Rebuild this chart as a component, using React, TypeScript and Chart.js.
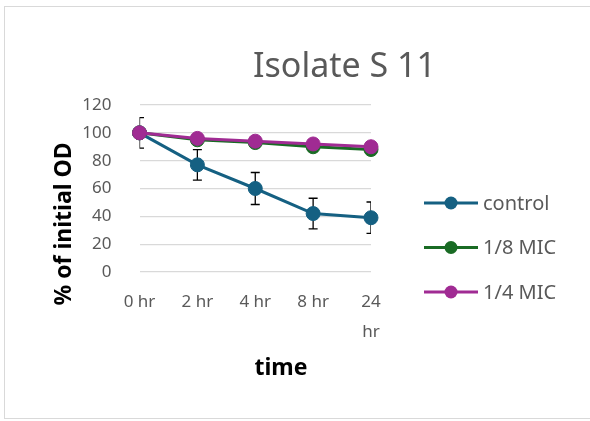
import React, { useEffect, useRef } from 'react';
import { Chart, registerables } from 'chart.js';

Chart.register(...registerables);

const categories: (string | string[])[] = ['0 hr', '2 hr', '4 hr', '8 hr', ['24', 'hr']];
const controlValues = [100, 77, 60, 42, 39];
const controlErrors = [11, 11, 11.5, 11, 11.3];
const mic8Values = [100, 95, 93, 90, 88];
const mic4Values = [100, 96, 94, 92, 90];
const seriesLabels = ['control', '1/8 MIC', '1/4 MIC'];
const seriesColors = ['#156082', '#196B24', '#A02B93'];
const yMin = 0;
const yMax = 120;
const yStep = 20;
const chartTitle = 'Isolate S 11';
const xTitle = 'time';
const yTitle = '% of initial OD';

const FONT = "'Noto Sans', sans-serif";
const GRAY = '#595959';

const errorBarPlugin = {
  id: 'errorBars',
  beforeDatasetsDraw(chart: any) {
    const { ctx, chartArea } = chart;
    const xs = chart.scales.x;
    const ys = chart.scales.y;
    ctx.save();
    ctx.beginPath();
    ctx.rect(chartArea.left, chartArea.top - 20, chartArea.right - chartArea.left, chartArea.bottom - chartArea.top + 40);
    ctx.clip();
    ctx.strokeStyle = '#000000';
    ctx.lineWidth = 1.3;
    const cap = 4.5;
    controlValues.forEach((v, i) => {
      const x = xs.getPixelForValue(i);
      const yTop = ys.getPixelForValue(v + controlErrors[i]);
      const yBot = ys.getPixelForValue(v - controlErrors[i]);
      ctx.beginPath();
      ctx.moveTo(x, yTop);
      ctx.lineTo(x, yBot);
      ctx.moveTo(x - cap, yTop);
      ctx.lineTo(x + cap, yTop);
      ctx.moveTo(x - cap, yBot);
      ctx.lineTo(x + cap, yBot);
      ctx.stroke();
    });
    ctx.restore();
  },
};

const textsPlugin = {
  id: 'chartTexts',
  afterDraw(chart: any, _args: any, opts: any) {
    const { ctx } = chart;
    ctx.save();
    ctx.textBaseline = 'alphabetic';
    ctx.textAlign = 'center';
    ctx.fillStyle = GRAY;
    ctx.font = `34px ${FONT}`;
    ctx.fillText(chartTitle, opts.titleX, opts.titleY);
    ctx.fillStyle = '#000000';
    ctx.font = `bold 23px ${FONT}`;
    ctx.fillText(xTitle, opts.xTitleX, opts.xTitleY);
    ctx.save();
    ctx.translate(opts.yTitleX, opts.yTitleY);
    ctx.rotate(-Math.PI / 2);
    ctx.fillText(yTitle, 0, 0);
    ctx.restore();
    ctx.restore();
  },
};

const sideLegendPlugin = {
  id: 'sideLegend',
  afterDraw(chart: any, _args: any, opts: any) {
    const { ctx } = chart;
    ctx.save();
    chart.data.datasets.forEach((ds: any, i: number) => {
      const y = opts.y + i * opts.spacing;
      const x0 = opts.x;
      ctx.strokeStyle = ds.borderColor;
      ctx.lineWidth = 3;
      ctx.beginPath();
      ctx.moveTo(x0, y);
      ctx.lineTo(x0 + opts.lineLength, y);
      ctx.stroke();
      ctx.fillStyle = ds.borderColor;
      ctx.beginPath();
      ctx.arc(x0 + opts.lineLength / 2, y, 6.5, 0, Math.PI * 2);
      ctx.fill();
      ctx.fillStyle = GRAY;
      ctx.font = `20px ${FONT}`;
      ctx.textBaseline = 'middle';
      ctx.textAlign = 'left';
      ctx.fillText(ds.label, x0 + opts.lineLength + 5, y + 1);
    });
    ctx.restore();
  },
};

function LineChart() {
  const ref = useRef<HTMLCanvasElement>(null);
  useEffect(() => {
    if (!ref.current) return;
    const seriesValues = [controlValues, mic8Values, mic4Values];
    const chart = new Chart(ref.current, {
      type: 'line',
      data: {
        labels: categories,
        datasets: seriesValues.map((vals, i) => ({
          label: seriesLabels[i],
          data: vals,
          borderColor: seriesColors[i],
          backgroundColor: seriesColors[i],
          pointBackgroundColor: seriesColors[i],
          pointBorderColor: seriesColors[i],
          borderWidth: 3,
          pointRadius: 7,
          pointHoverRadius: 7,
          pointBorderWidth: 1,
          tension: 0,
          fill: false,
          order: 2 - i,
        })),
      },
      options: {
        animation: false,
        responsive: false,
        devicePixelRatio: 1,
        layout: { padding: { left: 0, right: 219, top: 105, bottom: 0 } },
        plugins: {
          legend: { display: false },
          tooltip: { enabled: false },
          title: { display: false },
          sideLegend: { x: 424, y: 203, spacing: 44.5, lineLength: 54 },
          chartTexts: {
            titleX: 344.5,
            titleY: 77,
            xTitleX: 281,
            xTitleY: 375,
            yTitleX: 71,
            yTitleY: 224,
          },
        } as any,
        scales: {
          x: {
            type: 'category',
            offset: false,
            grid: { display: false, drawTicks: false },
            border: { display: false },
            ticks: {
              color: GRAY,
              font: { family: FONT, size: 17, lineHeight: 1.76 },
              padding: 15,
              maxRotation: 0,
              autoSkip: false,
            },
            afterFit: (scale: any) => {
              scale.height = 149;
            },
          },
          y: {
            min: yMin,
            max: yMax,
            grid: { color: '#d9d9d9', lineWidth: 1.3, drawTicks: false },
            border: { display: false },
            ticks: {
              stepSize: yStep,
              color: GRAY,
              font: { family: FONT, size: 17 },
              padding: 28,
            },
            afterFit: (scale: any) => {
              scale.width = 139.5;
            },
          },
        },
      },
      plugins: [errorBarPlugin, sideLegendPlugin, textsPlugin],
    });
    return () => chart.destroy();
  }, []);
  return (
    <canvas
      ref={ref}
      width={590}
      height={421}
      style={{ position: 'absolute', left: 0, top: 0, width: 590, height: 421 }}
    />
  );
}

export default function App() {
  return (
    <div
      style={{
        position: 'fixed',
        left: 0,
        top: 0,
        width: 590,
        height: 421,
        overflow: 'hidden',
        background: '#ffffff',
      }}
    >
      <div
        style={{
          position: 'absolute',
          left: 4,
          top: 6,
          width: 620,
          height: 411,
          border: '1.5px solid #d9d9d9',
        }}
      />
      <LineChart />
    </div>
  );
}
